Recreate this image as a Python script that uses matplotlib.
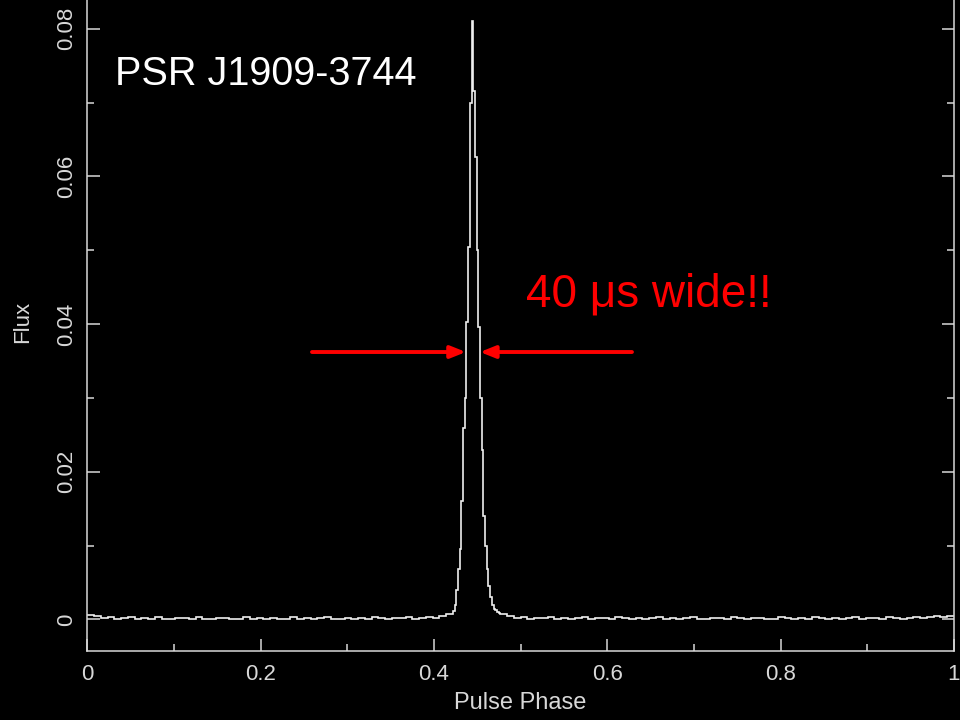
import matplotlib
matplotlib.use('Agg')
import matplotlib.pyplot as plt
import numpy as np
from matplotlib import font_manager

# pulse profile of PSR J1909-3744, flux per phase bin
# baseline read at 1/128 phase bins (units of 1e-4)
base_left = [6, 5, 2, 3, 1, 2, 3, 0, 2, 1,
             3, 1, 0, 2, 2, 1, 3, 0, 1, 2,
             2, 0, 1, 3, 1, 2, 0, 2, 1, 1,
             3, 1, 2, 0, 2, 3, 1, 1, 2, 0,
             2, 1, 3, 2, 1, 2, 2, 3, 1, 2,
             3, 2, 4, 7]
# the pulse itself at 1/512 phase bins 216..243
peak_flux = [0.0011, 0.0020, 0.0040, 0.0068, 0.0095, 0.0160, 0.0259,
             0.0300, 0.0403, 0.0504, 0.0700, 0.0810, 0.0715, 0.0626,
             0.0500, 0.0396, 0.0300, 0.0230, 0.0140, 0.0100, 0.0068,
             0.0045, 0.0030, 0.0020, 0.0014, 0.0012, 0.0010, 0.0008]
base_right = [7, 4, 2, 3, 1, 2, 2, 3, 1, 2,
              0, 2, 3, 1, 2, 2, 1, 3, 2, 1,
              2, 0, 2, 3, 1, 2, 1, 2, 3, 1,
              0, 2, 2, 1, 3, 2, 1, 2, 2, 0,
              1, 3, 2, 1, 2, 1, 3, 2, 0, 2,
              1, 2, 3, 1, 2, 2, 1, 3, 2, 1,
              2, 3, 2, 3, 4, 3, 5]

edges = np.concatenate([np.arange(0, 54) / 128,
                        np.arange(216, 244) / 512,
                        np.arange(61, 129) / 128])
flux = np.concatenate([np.array(base_left) * 1e-4,
                       peak_flux,
                       np.array(base_right) * 1e-4])

names = {f.name for f in font_manager.fontManager.ttflist}
narrow = 'Liberation Sans Narrow' if 'Liberation Sans Narrow' in names else None

fg = '#d8d8d8'
plt.rcParams['font.family'] = ['Liberation Sans', 'DejaVu Sans']

fig = plt.figure(figsize=(9.6, 7.2), dpi=100, facecolor='black')
ax = fig.add_axes([0.0909, 0.0958, 0.9028, 0.9042], facecolor='black')

ax.stairs(flux, edges, baseline=None, color='#eeeeee', lw=1.2)

ax.set_xlim(0, 1)
ax.set_ylim(-0.00429, 0.08389)
ax.set_xticks(np.arange(0, 1.01, 0.2))
ax.set_xticks(np.arange(0, 1.01, 0.1), minor=True)
ax.set_yticks(np.arange(0, 0.081, 0.02))
ax.set_yticks(np.arange(0, 0.081, 0.01), minor=True)
ax.set_xticklabels(['0', '0.2', '0.4', '0.6', '0.8', '1'])
ax.set_yticklabels(['0', '0.02', '0.04', '0.06', '0.08'],
                   rotation=90, va='center')

for s in ['left', 'right', 'bottom']:
    ax.spines[s].set_color(fg)
    ax.spines[s].set_linewidth(1.1)
ax.spines['top'].set_visible(False)
ax.tick_params(which='both', direction='in', colors=fg, width=1.1,
               left=True, right=True, bottom=True, top=False,
               labelsize=16, labelcolor=fg)
ax.tick_params(which='major', length=9)
ax.tick_params(which='minor', length=5)
ax.tick_params(axis='x', pad=9)
ax.tick_params(axis='y', pad=7)

ax.set_xlabel('Pulse Phase', color=fg, fontsize=17, va='center')
ax.xaxis.set_label_coords(0.5, -0.08)
ax.set_ylabel('Flux', color=fg, fontsize=16, va='center')
ax.yaxis.set_label_coords(-0.075, 0.505)

if narrow:
    ax.text(0.032, 0.07238, 'PSR J1909-3744', color='white', fontsize=34,
            family=[narrow, 'DejaVu Sans'], va='baseline', ha='left')
else:
    ax.text(0.032, 0.07238, 'PSR J1909-3744', color='white', fontsize=28.5,
            va='baseline', ha='left')
ax.text(0.506, 0.04244, '40 \u03bcs wide!!', color='#ff0000', fontsize=33,
        va='baseline', ha='left')

arrow = dict(arrowstyle='-|>,head_length=0.45,head_width=0.18',
             color='#ff0000', lw=2.8, mutation_scale=20,
             shrinkA=0, shrinkB=0)
ax.annotate('', xy=(0.4369, 0.03621), xytext=(0.2593, 0.03621),
            arrowprops=arrow)
ax.annotate('', xy=(0.4531, 0.03621), xytext=(0.6285, 0.03621),
            arrowprops=arrow)

plt.savefig('out.png', dpi=100, facecolor='black')
